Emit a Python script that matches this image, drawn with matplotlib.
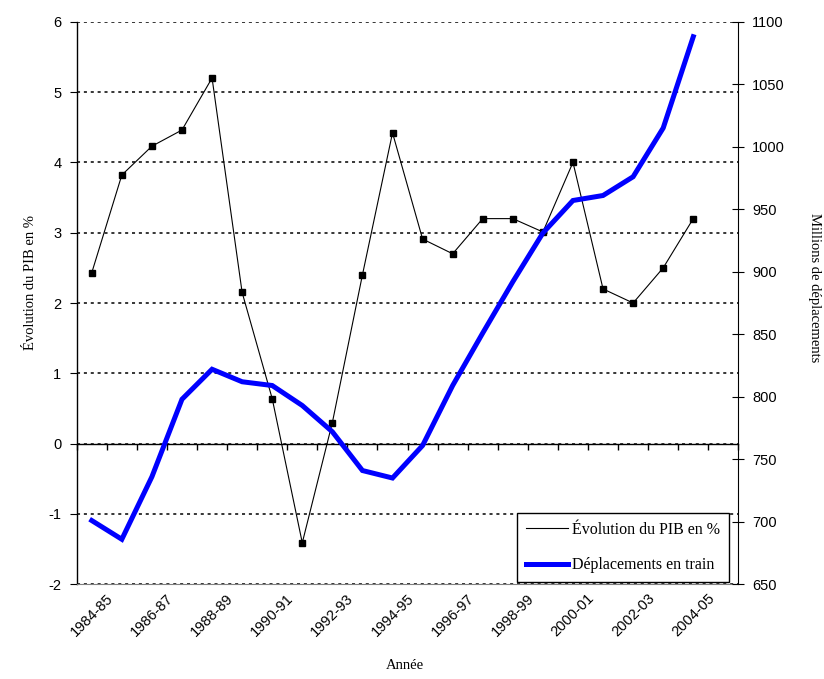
import numpy as np
import matplotlib
matplotlib.use("Agg")
import matplotlib.pyplot as plt
from matplotlib.lines import Line2D

plt.rcParams['axes.unicode_minus'] = False

# categories (the last one has no data)
annees = ['1984-85', '1985-86', '1986-87', '1987-88', '1988-89', '1989-90',
          '1990-91', '1991-92', '1992-93', '1993-94', '1994-95', '1995-96',
          '1996-97', '1997-98', '1998-99', '1999-00', '2000-01', '2001-02',
          '2002-03', '2003-04', '2004-05', '2005-06']

# GDP growth in %
pib = [2.43, 3.82, 4.23, 4.46, 5.20, 2.15, 0.64, -1.41, 0.30, 2.40, 4.42,
       2.91, 2.70, 3.20, 3.20, 3.01, 4.00, 2.20, 2.00, 2.50, 3.20]

# rail trips, millions
train = [701, 686, 736, 798, 822, 812, 809, 793, 772, 741, 735, 761, 809,
         851, 892, 931, 957, 961, 976, 1015, 1088]

serif = 'Liberation Serif'
sans = 'Liberation Sans'

fig = plt.figure(figsize=(8.24, 6.79), dpi=100)
ax = fig.add_axes([0.0931, 0.1395, 0.803, 0.8285])
ax2 = ax.twinx()

x = np.arange(len(pib))
ax.plot(x, pib, color='black', lw=0.8, marker='s', markersize=4, zorder=3)
ax2.plot(x, train, color='#0000FF', lw=3.6, solid_joinstyle='miter')

# left axis
ax.set_xlim(-0.5, len(annees) - 0.5)
ax.set_ylim(-2, 6)
ax.set_yticks(range(-2, 7))
ax.yaxis.grid(True, color='black', linestyle=(0, (2, 2.5)), lw=1.1)
ax.set_axisbelow(True)
for s in ['top', 'right']:
    ax.spines[s].set_visible(False)
ax.spines['bottom'].set_color('#808080')
ax.spines['left'].set_linewidth(1.0)
ax.tick_params(axis='y', direction='out', length=5, pad=6, labelsize=10.5)
for t in ax.get_yticklabels():
    t.set_fontfamily(sans)

# x labels at the bottom, every other year
ax.set_xticks(x[::2])
ax.set_xticklabels([annees[i] for i in range(0, len(pib), 2)],
                   rotation=45, fontfamily=sans, fontsize=10.5)
ax.tick_params(axis='x', length=0, pad=5)

# category axis crossing at 0
zero = ax.secondary_xaxis(0.25)
zero.set_xticks(np.arange(-0.5, len(annees), 1.0))
zero.set_xticklabels([])
zero.tick_params(direction='out', length=4, width=1)
zero.spines['bottom'].set_linewidth(1.0)

# right axis
ax2.set_ylim(650, 1100)
ax2.set_yticks(range(650, 1101, 50))
for s in ['top', 'bottom', 'left']:
    ax2.spines[s].set_visible(False)
ax2.tick_params(axis='y', direction='inout', length=8, pad=6, labelsize=10.5)
for t in ax2.get_yticklabels():
    t.set_fontfamily(sans)

ax.set_ylabel('Évolution du PIB en %', fontfamily=serif, fontsize=10.5)
ax.yaxis.set_label_coords(-0.06, 0.536)
ax2.set_ylabel('Millions de déplacements', fontfamily=serif, fontsize=10.5,
               rotation=270, va='center')
ax2.yaxis.set_label_coords(1.115, 0.527)
ax.set_xlabel('Année', fontfamily=serif, fontsize=10.5)
ax.xaxis.set_label_coords(0.496, -0.132)

handles = [Line2D([], [], color='black', lw=0.8),
           Line2D([], [], color='#0000FF', lw=3.6)]
leg = ax2.legend(handles, ['Évolution du PIB en %', 'Déplacements en train'],
                 loc='lower right', bbox_to_anchor=(0.986, 0.004),
                 borderaxespad=0, fancybox=False, framealpha=1,
                 edgecolor='black', handlelength=2.6, handletextpad=0.3,
                 labelspacing=1.2, borderpad=0.55,
                 prop={'family': serif, 'size': 11.5})
leg.get_frame().set_linewidth(1.0)

fig.savefig('out.png', dpi=100)
